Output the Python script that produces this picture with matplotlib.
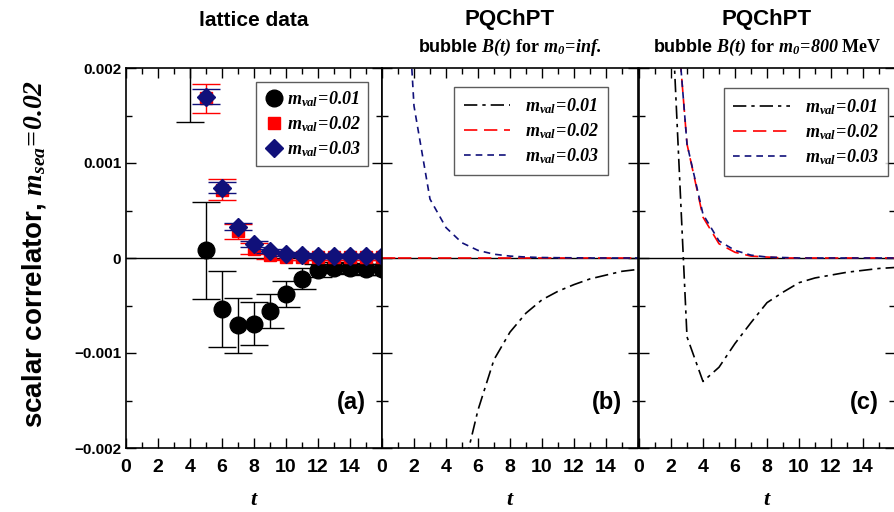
import matplotlib
matplotlib.use("Agg")
import matplotlib.pyplot as plt
import numpy as np

plt.rcParams['font.family'] = ['Liberation Sans', 'DejaVu Sans']
plt.rcParams['font.weight'] = 'bold'
plt.rcParams['axes.titleweight'] = 'bold'
plt.rcParams['axes.labelweight'] = 'bold'
plt.rcParams['mathtext.fontset'] = 'custom'
plt.rcParams['mathtext.rm'] = 'Liberation Serif:bold:italic'
plt.rcParams['mathtext.it'] = 'Liberation Serif:bold:italic'
plt.rcParams['mathtext.bf'] = 'Liberation Serif:bold'

# lattice data, panel (a)
t_01 = [4, 5, 6, 7, 8, 9, 10, 11, 12, 13, 14, 15, 16]
c_01 = [0.0025, 0.00008, -0.00054, -0.00071, -0.00069, -0.00056, -0.00038, -0.00022,
        -0.00013, -0.00010, -0.00011, -0.00012, -0.00012]
e_01 = [0.00107, 0.00051, 0.0004, 0.00029, 0.00023, 0.00018, 0.00014, 0.00011,
        0.00007, 0.00006, 0.00006, 0.00006, 0.00006]

t_lat = [5, 6, 7, 8, 9, 10, 11, 12, 13, 14, 15, 16]
c_02 = [0.00168, 0.00072, 0.00028, 0.00010, 0.00003, 0.00001, 0.00001, 0.00001,
        0.00001, 0.00001, 0.00001, 0.00001]
e_02 = [0.00015, 0.00011, 0.00008, 0.00006, 0.00004, 0.00003, 0.00003, 0.00003,
        0.00003, 0.00003, 0.00003, 0.00003]
c_03 = [0.00170, 0.00074, 0.00033, 0.00015, 0.00007, 0.00004, 0.00003, 0.00002,
        0.00002, 0.00002, 0.00002, 0.00002]
e_03 = [0.00008, 0.00006, 0.00004, 0.00003, 0.00002, 0.00002, 0.00002, 0.00002,
        0.00002, 0.00002, 0.00002, 0.00002]

# PQChPT bubble, panel (b): m0 = inf
t_b = list(range(1, 17))
b_inf_01 = [-0.009, -0.007, -0.0052, -0.0036, -0.0023, -0.0016, -0.00107, -0.00078,
            -0.00058, -0.00044, -0.00035, -0.00028, -0.00022, -0.00018, -0.00014, -0.00012]
b_inf_02 = [0.0] * 16
b_inf_03 = [0.0045, 0.0016, 0.00062, 0.00032, 0.00016, 0.00008, 0.00004, 0.00002,
            0.00001, 0.000005, 0.000003, 0.000002, 0.0, 0.0, 0.0, 0.0]

# PQChPT bubble, panel (c): m0 = 800 MeV
b_800_01 = [0.008, 0.0028, -0.00083, -0.0013, -0.00115, -0.0009, -0.00068, -0.00047,
            -0.00036, -0.00026, -0.00021, -0.00018, -0.00015, -0.00013, -0.00011, -0.0001]
b_800_02 = [0.009, 0.0033, 0.0012, 0.00043, 0.00015, 0.00006, 0.00002, 0.00001,
            0.0, 0.0, 0.0, 0.0, 0.0, 0.0, 0.0, 0.0]
b_800_03 = [0.009, 0.0033, 0.0012, 0.00046, 0.00018, 0.00008, 0.00003, 0.00001,
            0.000005, 0.0, 0.0, 0.0, 0.0, 0.0, 0.0, 0.0]

labels = [r'$m_{val}\!=\!0.01$', r'$m_{val}\!=\!0.02$', r'$m_{val}\!=\!0.03$']
navy = '#10107a'

fig = plt.figure(figsize=(8.94, 5.12), dpi=100)
w = 256 / 894
h = 380 / 512
bottom = 1 - 448 / 512
axa = fig.add_axes([126 / 894, bottom, w, h])
axb = fig.add_axes([382 / 894, bottom, w, h])
axc = fig.add_axes([639 / 894, bottom, w, h])

for ax in (axa, axb, axc):
    ax.set_xlim(0, 16)
    ax.set_ylim(-0.002, 0.002)
    ax.axhline(0, color='black', lw=1, zorder=1)
    ax.set_xticks(range(0, 16, 2))
    ax.set_xticks(range(0, 17), minor=True)
    ax.set_yticks([-0.002, -0.001, 0, 0.001, 0.002])
    ax.set_yticks(np.arange(-0.002, 0.0021, 0.0005), minor=True)
    ax.tick_params(which='both', direction='in', top=True, right=True)
    ax.tick_params(which='major', length=7, width=1)
    ax.tick_params(which='minor', length=4, width=1)
    ax.tick_params(axis='x', labelsize=14, pad=8)
    ax.set_xlabel(r'$t$', fontsize=16, labelpad=9)
    for s in ax.spines.values():
        s.set_linewidth(1.2)

axa.set_yticklabels(['\u22120.002', '\u22120.001', '0', '0.001', '0.002'], fontsize=11)
axb.set_yticklabels([])
axc.set_yticklabels([])
axa.set_ylabel(r'scalar correlator, $m_{sea}\!=\!0.02$', fontsize=20)
axa.yaxis.set_label_coords(-0.305, 0.51)

# panel (a): the t=4 point lies above the frame, only its lower bar shows
ebk = dict(elinewidth=1, capthick=1, capsize=10)
axa.errorbar(t_01[:1], c_01[:1], yerr=e_01[:1], fmt='none', ecolor='black', **ebk)
axa.errorbar(t_01[1:], c_01[1:], yerr=e_01[1:], fmt='o', color='black', ms=12,
             label=labels[0], zorder=3, **ebk)
axa.errorbar(t_lat, c_02, yerr=e_02, fmt='s', color='red', ms=9,
             label=labels[1], zorder=4, **ebk)
axa.errorbar(t_lat, c_03, yerr=e_03, fmt='D', color=navy, ms=9,
             label=labels[2], zorder=5, **ebk)
for c in axa.containers[1:]:
    for art in [c[0]] + list(c[1]) + list(c[2]):
        art.set_clip_on(False)
h_a, l_a = axa.get_legend_handles_labels()
leg = axa.legend([x[0] for x in h_a], l_a, loc='upper right', bbox_to_anchor=(0.945, 0.963),
                 borderaxespad=0, fontsize=13, fancybox=False, edgecolor='#333333',
                 handletextpad=0.1, borderpad=0.4, labelspacing=0.3, handlelength=1.2)
leg.get_frame().set_linewidth(1)
axa.text(0.88, 0.12, '(a)', transform=axa.transAxes, fontsize=17, ha='center', va='center')
axa.set_title('lattice data', fontsize=15, pad=30)

# panel (b)
dd = (0, (8, 3, 2, 3))
axb.plot(t_b, b_inf_01, color='black', lw=1.2, linestyle=dd, label=labels[0])
axb.plot(t_b, b_inf_02, color='red', lw=1.2, linestyle=(0, (8, 4)), label=labels[1])
axb.plot(t_b, b_inf_03, color=navy, lw=1.2, linestyle=(0, (4, 3)), label=labels[2])
axb.plot([0, 1], [0, 0], color='red', lw=1.2, linestyle=(0, (8, 4)))
leg = axb.legend(loc='upper right', bbox_to_anchor=(0.883, 0.95), borderaxespad=0,
                 fontsize=13, fancybox=False, edgecolor='#333333', handlelength=2.6,
                 labelspacing=0.3, borderpad=0.5)
leg.get_frame().set_linewidth(1)
axb.text(0.88, 0.12, '(b)', transform=axb.transAxes, fontsize=17, ha='center', va='center')
axb.set_title('PQChPT', fontsize=16, pad=31)
axb.text(0.5, 1.055, r'bubble $B(t)\ \mathbf{for}\ m_0\!=\!inf.$', transform=axb.transAxes,
         fontsize=13, ha='center', va='center')

# panel (c)
axc.plot(t_b, b_800_01, color='black', lw=1.2, linestyle=dd, label=labels[0])
axc.plot(t_b, b_800_02, color='red', lw=1.2, linestyle=(0, (8, 4)), label=labels[1])
axc.plot(t_b, b_800_03, color=navy, lw=1.2, linestyle=(0, (4, 3)), label=labels[2])
leg = axc.legend(loc='upper right', bbox_to_anchor=(0.973, 0.947), borderaxespad=0,
                 fontsize=13, fancybox=False, edgecolor='#333333', handlelength=3.2,
                 labelspacing=0.3, borderpad=0.5)
leg.get_frame().set_linewidth(1)
axc.text(0.88, 0.12, '(c)', transform=axc.transAxes, fontsize=17, ha='center', va='center')
axc.set_title('PQChPT', fontsize=16, pad=31)
axc.text(0.5, 1.055, r'bubble $B(t)\ \mathbf{for}\ m_0\!=\!800\ \mathbf{MeV}$',
         transform=axc.transAxes, fontsize=13, ha='center', va='center')

fig.savefig('out.png', dpi=100)
